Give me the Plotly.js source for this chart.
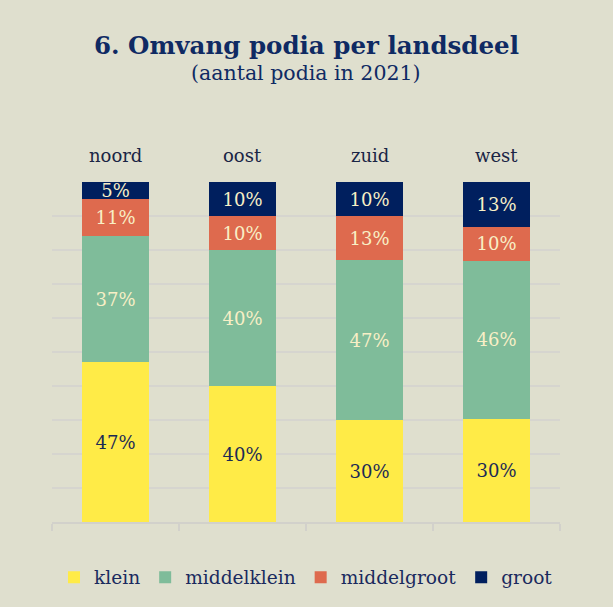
<!DOCTYPE html>
<html>
<head>
<meta charset="utf-8">
<script src="https://cdn.plot.ly/plotly-3.0.1.min.js"></script>
<style>html,body{margin:0;padding:0;background:#DFDFCE;}</style>
</head>
<body>
<div id="chart" style="width:613px;height:607px;"></div>
<script>
const categories = ['noord', 'oost', 'zuid', 'west'];
const klein = [47, 40, 30, 30];
const middelklein = [37, 40, 47, 46];
const middelgroot = [11, 10, 13, 10];
const groot = [5, 10, 10, 13];

const seriesNames = ['klein', 'middelklein', 'middelgroot', 'groot'];
const seriesValues = [klein, middelklein, middelgroot, groot];
const seriesColors = ['#FFEB47', '#7FBC9A', '#DE6A4E', '#001F5E'];
const textColors = ['#1B2A55', '#F8EFC6', '#F8EFC6', '#F8EFC6'];

const FONT = 'DejaVu Serif, Liberation Serif, serif';

const traces = seriesNames.map((name, i) => ({
  type: 'bar',
  name: name,
  x: categories,
  y: seriesValues[i],
  text: seriesValues[i].map(v => v + '%'),
  texttemplate: '%{text}',
  textposition: 'inside',
  insidetextanchor: 'middle',
  textangle: 0,
  constraintext: 'none',
  textfont: {family: FONT, size: 18, color: textColors[i]},
  marker: {color: seriesColors[i], line: {width: 0}},
  hoverinfo: 'skip'
}));

const annotations = [
  {text: '<b>6. Omvang podia per landsdeel</b>', xref: 'paper', yref: 'paper', x: 0.5, y: 1, yshift: 137,
   showarrow: false, font: {family: FONT, size: 24.5, color: '#0F2A63'}, xanchor: 'center', yanchor: 'middle'},
  {text: '(aantal podia in 2021)', xref: 'paper', yref: 'paper', x: 0.5, y: 1, yshift: 109,
   showarrow: false, font: {family: FONT, size: 20.5, color: '#0F2A63'}, xanchor: 'center', yanchor: 'middle'}
].concat(categories.map(c => ({
  text: c, xref: 'x', yref: 'paper', x: c, y: 1, yshift: 27, showarrow: false,
  font: {family: FONT, size: 18, color: '#1A2545'}, xanchor: 'center', yanchor: 'middle'
})));

const layout = {
  width: 613, height: 607,
  paper_bgcolor: '#DFDFCE',
  plot_bgcolor: '#DFDFCE',
  margin: {l: 52, r: 53, t: 182, b: 84},
  barmode: 'stack',
  barnorm: 'percent',
  bargap: 0.465,
  showlegend: true,
  legend: {orientation: 'h', x: 0.5, xanchor: 'center', y: -0.16, yanchor: 'middle',
           font: {family: FONT, size: 18.6, color: '#1A2A5E'}, traceorder: 'normal',
           bgcolor: 'rgba(0,0,0,0)'},
  uniformtext: {mode: 'show', minsize: 18},
  xaxis: {type: 'category', showline: true, linecolor: '#D2D1CB', linewidth: 2,
          ticks: 'outside', tickson: 'boundaries', ticklen: 7, tickcolor: '#D2D1CB', tickwidth: 2,
          showticklabels: false, showgrid: false, fixedrange: true},
  yaxis: {range: [0, 100], dtick: 10, showgrid: true, gridcolor: '#D6D5CF', gridwidth: 2,
          zeroline: false, showticklabels: false, showline: false, fixedrange: true},
  annotations: annotations,
  font: {family: FONT}
};

Plotly.newPlot('chart', traces, layout, {displayModeBar: false, staticPlot: true});
</script>
</body>
</html>
